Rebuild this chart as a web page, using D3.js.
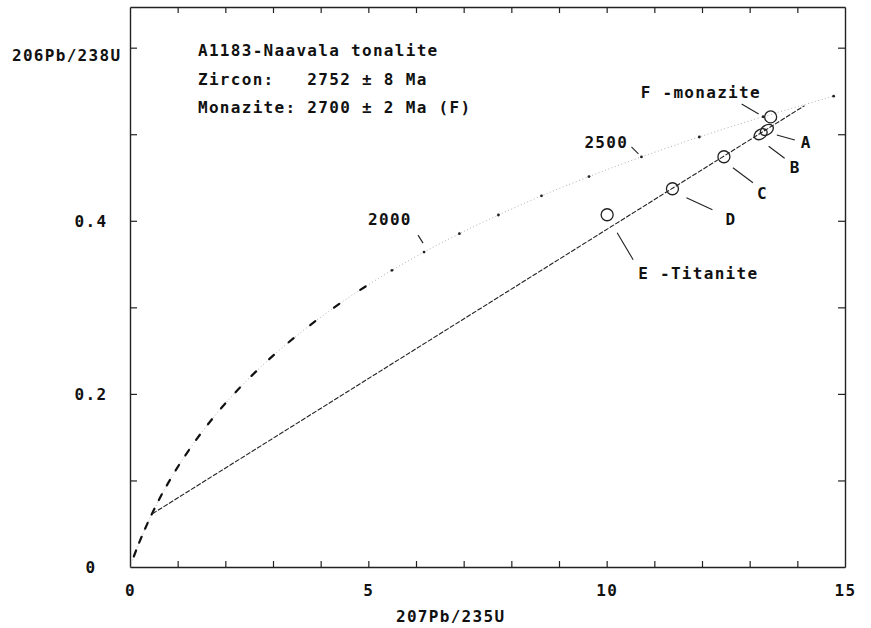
<!DOCTYPE html>
<html><head><meta charset="utf-8">
<script src="https://cdn.jsdelivr.net/npm/d3@7"></script>
<style>
body{margin:0;background:#fff;}
svg{display:block;}
text{font-family:"DejaVu Sans Mono",monospace;font-weight:bold;font-size:16px;letter-spacing:1.3px;fill:#111;}
</style></head><body>
<svg id="c" width="871" height="628"></svg>
<script>
// ---- data ----
const concordiaAges = [0,100,200,300,400,500,600,700,800,900,1000,1100,1200,1300,1400,1500,1600,1700,1800,1900,2000,2100,2200,2300,2400,2500,2600,2700,2800];
const concordiaX = [0,0.1035,0.2177,0.3437,0.4828,0.6362,0.8056,0.9926,1.1988,1.4264,1.6774,1.9546,2.2603,2.5975,2.9698,3.3810,3.8343,4.3344,4.8864,5.4959,6.1687,6.9105,7.7292,8.6326,9.6296,10.7297,11.9440,13.2830,14.7616];
const concordiaY = [0,0.0156,0.0315,0.0476,0.0640,0.0807,0.0975,0.1147,0.1321,0.1498,0.1678,0.1861,0.2046,0.2234,0.2426,0.2620,0.2817,0.3018,0.3221,0.3428,0.3638,0.3851,0.4067,0.4288,0.4511,0.4738,0.4968,0.5202,0.5440];
const ageLabelAges = [2000, 2500];
const ageLabelText = ["2000", "2500"];

const sampleIds = ["A","B","C","D","E","F"];
const sampleX = [13.36, 13.23, 12.46, 11.38, 10.01, 13.44];
const sampleY = [0.505, 0.500, 0.474, 0.437, 0.407, 0.520];
const sampleText = ["A","B","C","D","E -Titanite","F -monazite"];

const discordiaX = [0.47, 14.15];
const discordiaY = [0.0615, 0.533];

const xMinorTicks = [1,2,3,4,5,6,7,8,9,10,11,12,13,14];
const xLabelTicks = [0,5,10,15];
const xLabelText = ["0","5","10","15"];
const yMinorTicks = [0.1,0.2,0.3,0.4,0.5,0.6];
const yLabelTicks = [0,0.2,0.4];
const yLabelText = ["0","0.2","0.4"];

const titleLines = ["A1183-Naavala tonalite", "Zircon:   2752 ± 8 Ma", "Monazite: 2700 ± 2 Ma (F)"];
const xTitle = "207Pb/235U";
const yTitle = "206Pb/238U";

// ---- layout ----
const L = 130, R = 845, T = 7, B = 567;
const svg = d3.select("#c");
const x = d3.scaleLinear().domain([0, 15]).range([L, R]);
const y = d3.scaleLinear().domain([0, 0.647]).range([B, T]);

svg.append("defs").append("clipPath").attr("id","pc")
  .append("rect").attr("x",L).attr("y",T).attr("width",R-L).attr("height",B-T);

function styleAxis(g){
  g.selectAll("path.domain").attr("stroke","#222").attr("stroke-width",1.4);
  g.selectAll(".tick line").attr("stroke","#222").attr("stroke-width",1.2);
  g.selectAll(".tick text").remove();
}
svg.append("g").attr("transform",`translate(0,${B})`)
  .call(d3.axisBottom(x).tickValues(xMinorTicks).tickSize(-6).tickSizeOuter(0)).call(styleAxis);
svg.append("g").attr("transform",`translate(0,${T})`)
  .call(d3.axisTop(x).tickValues(xMinorTicks).tickSize(-6).tickSizeOuter(0)).call(styleAxis);
svg.append("g").attr("transform",`translate(${L},0)`)
  .call(d3.axisLeft(y).tickValues(yMinorTicks).tickSize(-7).tickSizeOuter(0)).call(styleAxis);
svg.append("g").attr("transform",`translate(${R},0)`)
  .call(d3.axisRight(y).tickValues(yMinorTicks).tickSize(-7).tickSizeOuter(0)).call(styleAxis);

const labelFont = g => g.style("font-family",'"DejaVu Sans Mono",monospace').style("font-size","16px")
  .style("font-weight","bold").style("letter-spacing","1.3px").attr("fill","#111");

const xl = svg.append("g").attr("transform",`translate(0,${B})`)
  .call(d3.axisBottom(x).tickValues(xLabelTicks).tickSize(0).tickFormat((d,i)=>xLabelText[i]));
xl.select("path.domain").remove();
xl.selectAll(".tick text").attr("y",29).attr("dy",0).call(labelFont);

const yl = svg.append("g").attr("transform",`translate(${L},0)`)
  .call(d3.axisLeft(y).tickValues(yLabelTicks).tickSize(0).tickFormat((d,i)=>yLabelText[i]));
yl.select("path.domain").remove();
yl.selectAll(".tick text").attr("x",-39).attr("dy","0.36em").attr("text-anchor","middle").call(labelFont);

svg.append("text").attr("x",396).attr("y",622).text(xTitle);
svg.append("text").attr("x",12).attr("y",61).text(yTitle);

svg.append("g").selectAll("text").data(titleLines).join("text")
  .attr("x",198).attr("y",(d,i)=>56+i*28.5).attr("xml:space","preserve")
  .style("white-space","pre").text(d=>d);

// ---- concordia ----
const plot = svg.append("g").attr("clip-path","url(#pc)");
const cPts = concordiaAges.map((a,i)=>({age:a, px:x(concordiaX[i]), py:y(concordiaY[i])}));
plot.append("path").datum(cPts)
  .attr("d", d3.line().x(d=>d.px).y(d=>d.py).curve(d3.curveCatmullRom))
  .attr("fill","none").attr("stroke","#9a9a9a").attr("stroke-width",0.8).attr("stroke-dasharray","1,2.5");
cPts.forEach((p,i)=>{
  if(i===0) return;
  if(p.age<=1800){
    const a = cPts[i-1], b = cPts[Math.min(i+1,cPts.length-1)];
    const dx=b.px-a.px, dy=b.py-a.py, len=Math.hypot(dx,dy);
    const h=3.2;
    plot.append("line").attr("x1",p.px-dx/len*h).attr("y1",p.py-dy/len*h)
      .attr("x2",p.px+dx/len*h).attr("y2",p.py+dy/len*h)
      .attr("stroke","#111").attr("stroke-width",2.2).attr("stroke-linecap","round");
  } else {
    plot.append("circle").attr("cx",p.px).attr("cy",p.py).attr("r",1.4).attr("fill","#222");
  }
});

// ---- discordia ----
plot.append("line")
  .attr("x1",x(discordiaX[0])).attr("y1",y(discordiaY[0]))
  .attr("x2",x(discordiaX[1])).attr("y2",y(discordiaY[1]))
  .attr("stroke","#222").attr("stroke-width",1.1).attr("stroke-dasharray","5,1.5");

// ---- samples ----
const lineAngle = Math.atan2(y(discordiaY[1])-y(discordiaY[0]), x(discordiaX[1])-x(discordiaX[0]))*180/Math.PI;
sampleIds.forEach((id,i)=>{
  const cx=x(sampleX[i]), cy=y(sampleY[i]);
  if(id==="A"||id==="B"){
    svg.append("ellipse").attr("cx",cx).attr("cy",cy).attr("rx",7).attr("ry",4.8)
      .attr("transform",`rotate(${lineAngle},${cx},${cy})`)
      .attr("fill","none").attr("stroke","#222").attr("stroke-width",1.3);
  } else {
    svg.append("circle").attr("cx",cx).attr("cy",cy).attr("r",6)
      .attr("fill","none").attr("stroke","#222").attr("stroke-width",1.3);
  }
});

// ---- annotations (pixel offsets from the marked point) ----
const sampleAnno = {
  A:{l:[10,5,28,10], t:[34,18]},
  B:{l:[8,12,24,24], t:[29,39]},
  C:{l:[9,11,29,26], t:[33,42]},
  D:{l:[14,9,40,21], t:[53,36]},
  E:{l:[10,18,26,45], t:[31,64]},
  F:{l:[-29,-13,-12,-3], t:[-130,-19]}
};
sampleIds.forEach((id,i)=>{
  const cx=x(sampleX[i]), cy=y(sampleY[i]), a=sampleAnno[id];
  svg.append("line").attr("x1",cx+a.l[0]).attr("y1",cy+a.l[1]).attr("x2",cx+a.l[2]).attr("y2",cy+a.l[3])
    .attr("stroke","#222").attr("stroke-width",1.1);
  svg.append("text").attr("x",cx+a.t[0]).attr("y",cy+a.t[1]).attr("xml:space","preserve")
    .style("white-space","pre").text(sampleText[i]);
});
const ageAnno = {2000:{l:[-6,-17,-1,-9], t:[-56,-27]}, 2500:{l:[-10,-10,-3,-3], t:[-57,-9]}};
ageLabelAges.forEach((ag,i)=>{
  const k = concordiaAges.indexOf(ag);
  const cx=x(concordiaX[k]), cy=y(concordiaY[k]), a=ageAnno[ag];
  svg.append("line").attr("x1",cx+a.l[0]).attr("y1",cy+a.l[1]).attr("x2",cx+a.l[2]).attr("y2",cy+a.l[3])
    .attr("stroke","#222").attr("stroke-width",1.1);
  svg.append("text").attr("x",cx+a.t[0]).attr("y",cy+a.t[1]).text(ageLabelText[i]);
});
</script>
</body></html>
